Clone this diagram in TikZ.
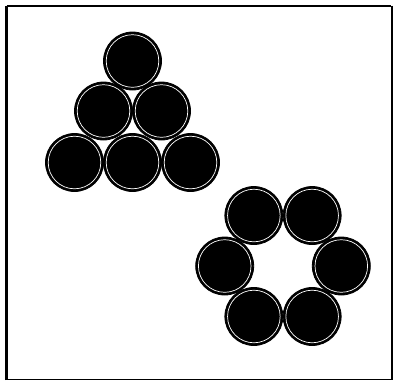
\documentclass[tikz,border=0pt]{standalone}
\usetikzlibrary{calc}
\begin{document}
\begin{tikzpicture}[x=1pt,y=-1pt,
  ball/.style={fill=black,draw=black,line width=0.8pt,minimum size=58pt,inner sep=0pt,circle},
  ringline/.style={draw=white,line width=0.7pt}]
\useasboundingbox (0,0) rectangle (398,381);
% frame
\draw[line width=2.6pt] (6.5,380) -- (6.5,5.5);
\draw[line width=2pt] (6.5,5.5) -- (391,5.5);
\draw[line width=1.4pt] (392,5.5) -- (392,379.5);
\draw[line width=1.2pt] (6.5,379.5) -- (392,379.5);
% triangle
\foreach \n/\x/\y in {t1/132.5/61, t2/103.5/111, t3/161.5/111, t4/74.5/162.5, t5/132.5/162.5, t6/190.5/162.5}{
  \node[ball] (\n) at (\x,\y) {};
  \draw[ringline] (\n) circle (26.3);
}
% ring
\foreach \n/\a in {h1/0, h2/60, h3/120, h4/180, h5/240, h6/300}{
  \node[ball] (\n) at ($(283,266)+(\a:58.3)$) {};
  \draw[ringline] (\n) circle (26.3);
}
\end{tikzpicture}
\end{document}
